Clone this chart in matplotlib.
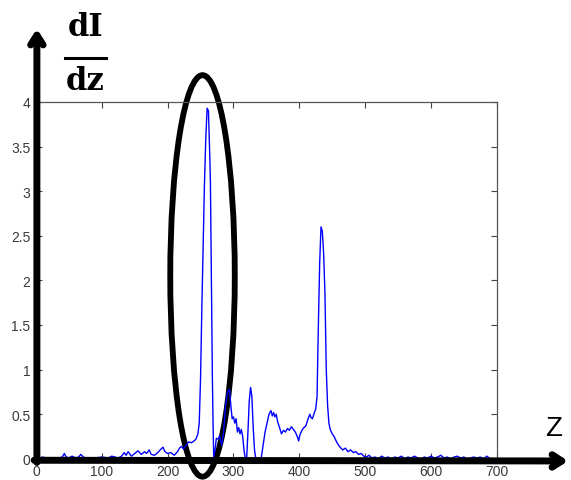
import numpy as np
import matplotlib
matplotlib.use("Agg")
import matplotlib.pyplot as plt
from matplotlib.patches import Ellipse

# derivative profile dI/dz sampled along z
z = [0, 5, 10, 15, 20, 25, 30, 35, 40, 43, 46, 50, 55, 60, 65, 68, 72, 80, 90, 100,
     110, 115, 120, 125, 130, 134, 137, 140, 145, 150, 155, 160, 165, 168, 172, 175,
     180, 185, 190, 193, 196, 200, 205, 210, 215, 218, 221, 224, 228, 232, 236, 240,
     243, 246, 248, 250, 252, 254, 256, 258, 260, 262, 264, 265, 267, 268, 269, 270,
     272, 274, 277, 279, 282, 285, 288, 291, 294, 296, 298, 300, 302, 304, 306, 308,
     310, 312, 314, 316, 318, 320, 322, 324, 326, 328, 330, 332, 334, 338, 342, 345,
     348, 351, 354, 357, 359, 361, 363, 365, 367, 370, 373, 376, 379, 382, 385, 388,
     391, 394, 397, 399, 401, 404, 407, 410, 413, 416, 418, 420, 423, 425, 427, 429,
     431, 433, 435, 437, 439, 441, 443, 445, 447, 450, 453, 456, 459, 462, 466, 470,
     474, 478, 482, 486, 490, 494, 498, 502, 506, 510, 515, 520, 525, 530, 535, 540,
     545, 550, 555, 560, 565, 570, 575, 580, 585, 590, 595, 600, 605, 610, 615, 620,
     625, 630, 635, 640, 645, 650, 655, 660, 665, 670, 675, 680, 685, 690]
dIdz = [0.01, 0.0, 0.02, 0.01, 0.0, 0.01, 0.0, 0.01, 0.02, 0.06, 0.02, 0.01, 0.03, 0.01,
        0.02, 0.05, 0.02, 0.0, 0.01, 0.02, 0.01, 0.03, 0.02, 0.01, 0.03, 0.07, 0.04,
        0.08, 0.03, 0.06, 0.09, 0.05, 0.08, 0.06, 0.10, 0.05, 0.04, 0.07, 0.11, 0.13,
        0.08, 0.06, 0.07, 0.04, 0.08, 0.12, 0.14, 0.11, 0.15, 0.19, 0.18, 0.20, 0.22,
        0.28, 0.40, 0.90, 1.70, 2.40, 3.10, 3.60, 3.93, 3.90, 3.40, 3.10, 1.60, 0.90,
        0.40, 0.02, 0.10, 0.23, 0.22, 0.26, 0.15, 0.30, 0.60, 0.75, 0.78, 0.60, 0.45,
        0.47, 0.40, 0.45, 0.30, 0.35, 0.28, 0.33, 0.25, 0.10, 0.0, 0.0, 0.30, 0.65,
        0.80, 0.70, 0.35, 0.10, 0.0, 0.0, 0.0, 0.15, 0.30, 0.40, 0.50, 0.54, 0.48,
        0.52, 0.47, 0.50, 0.42, 0.35, 0.28, 0.32, 0.30, 0.34, 0.32, 0.36, 0.33, 0.30,
        0.25, 0.20, 0.27, 0.32, 0.35, 0.37, 0.44, 0.50, 0.46, 0.45, 0.52, 0.56, 0.70,
        1.50, 2.20, 2.60, 2.55, 2.30, 1.85, 1.00, 0.60, 0.40, 0.33, 0.28, 0.25, 0.20,
        0.16, 0.13, 0.10, 0.12, 0.08, 0.10, 0.07, 0.08, 0.05, 0.06, 0.03, 0.02, 0.04,
        0.01, 0.02, 0.0, 0.03, 0.01, 0.02, 0.0, 0.02, 0.01, 0.03, 0.0, 0.02, 0.01,
        0.03, 0.01, 0.0, 0.02, 0.01, 0.03, 0.01, 0.02, 0.04, 0.01, 0.02, 0.0, 0.02,
        0.03, 0.01, 0.02, 0.0, 0.01, 0.02, 0.01, 0.02, 0.0, 0.03, 0.0]

xticks = [0, 100, 200, 300, 400, 500, 600, 700]
yticks = [0, 0.5, 1, 1.5, 2, 2.5, 3, 3.5, 4]
ytick_labels = ["0", "0.5", "1", "1.5", "2", "2.5", "3", "3.5", "4"]

fig = plt.figure(figsize=(5.71, 4.81), dpi=100)
ax = fig.add_axes([0.063, 0.044, 0.807, 0.742])
ax.plot(z, dIdz, color="#0000ff", lw=1.0)
ax.set_xlim(0, 700)
ax.set_ylim(0, 4)
ax.set_xticks(xticks)
ax.set_yticks(yticks)
ax.set_yticklabels(ytick_labels)
ax.tick_params(direction="in", top=True, right=True, length=4, width=0.8,
               labelsize=10, labelcolor="#3a3a3a", color="#444444", pad=4)
for lab in ax.get_xticklabels() + ax.get_yticklabels():
    lab.set_family("Liberation Sans")
for s in ax.spines.values():
    s.set_color("#555555")
    s.set_linewidth(0.9)

# thick arrow axes drawn over the frame
head = "->,head_length=0.7,head_width=0.45"
ax.annotate("", xy=(0.002, 1.205), xytext=(0.002, -0.01), xycoords="axes fraction",
            arrowprops=dict(arrowstyle=head, lw=5, color="black",
                            shrinkA=0, shrinkB=0), annotation_clip=False)
ax.annotate("", xy=(1.155, -0.006), xytext=(-0.004, -0.004), xycoords="axes fraction",
            arrowprops=dict(arrowstyle=head, lw=5, color="black",
                            shrinkA=0, shrinkB=0), annotation_clip=False)

# ring around the main peak
k = int(np.argmax(dIdz))
ring = Ellipse((z[k] - 7, 2.05), width=98, height=4.5, fill=False,
               edgecolor="black", lw=4.2, clip_on=False)
ax.add_patch(ring)

# axis labels
fig.text(0.149, 0.942, "dI", ha="center", va="center", fontsize=22,
         fontweight="bold", family="DejaVu Serif")
fig.add_artist(plt.Line2D([0.114, 0.186], [0.877, 0.877], color="black", lw=2.2))
fig.text(0.149, 0.83, "dz", ha="center", va="center", fontsize=22,
         fontweight="bold", family="DejaVu Serif")
fig.text(0.97, 0.108, "Z", ha="center", va="center", fontsize=20,
         family="Liberation Sans")

fig.savefig("out.png", dpi=100)
